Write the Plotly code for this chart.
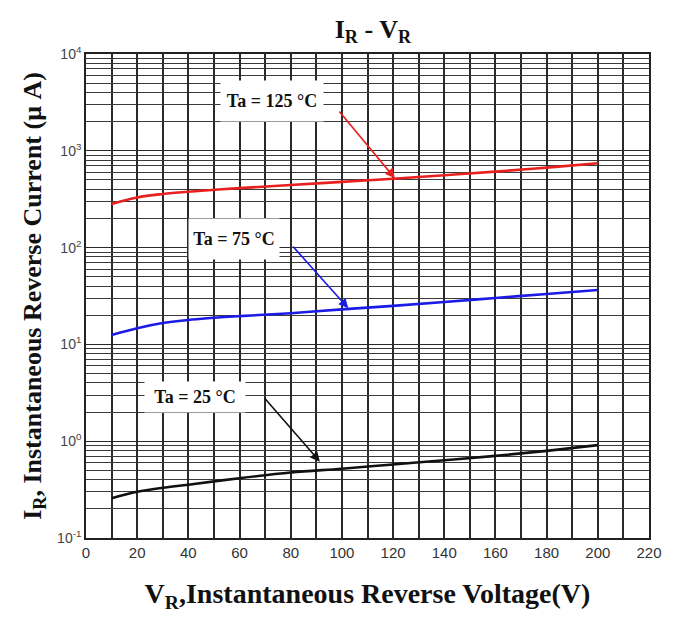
import numpy as np
import plotly.graph_objects as go

# Data (V in volts, I in microamps)
v_125 = [10, 20, 30, 40, 60, 80, 100, 120, 140, 160, 180, 200]
i_125 = [282, 330, 358, 378, 412, 443, 478, 515, 560, 610, 670, 743]

v_75 = [10, 20, 30, 40, 60, 80, 100, 120, 140, 160, 180, 200]
i_75 = [12.5, 14.7, 16.6, 17.9, 19.6, 21.0, 23.0, 25.0, 27.4, 30.2, 33.2, 36.5]

v_25 = [10, 20, 30, 40, 60, 80, 100, 120, 140, 160, 180, 200]
i_25 = [0.257, 0.30, 0.33, 0.355, 0.415, 0.475, 0.52, 0.575, 0.635, 0.705, 0.795, 0.91]

labels = ["Ta = 125 °C", "Ta = 75 °C", "Ta = 25 °C"]
colors = ["#e8201f", "#1b1be6", "#111111"]
# label box centre (V, I), arrow tail (V, I), arrow head (V, I)
label_pos = [(72.7, 3270), (57.8, 123), (42.6, 2.83)]
arrow_tail = [(98.5, 2640), (80.4, 106), (69.3, 2.88)]
arrow_head = [(120.7, 520), (102.5, 23.6), (91.4, 0.614)]
box_size = [(102, 40), (90, 40), (100, 30)]

y_tickvals = [0.1, 1, 10, 100, 1000, 10000]
y_ticktext = ["10<sup>-1</sup>", "10<sup>0</sup>", "10<sup>1</sup>", "10<sup>2</sup>",
              "10<sup>3</sup>", "10<sup>4</sup>"]
x_tickvals = list(range(0, 221, 20))

fig = go.Figure()
for vx, iy, c in [(v_125, i_125, colors[0]), (v_75, i_75, colors[1]), (v_25, i_25, colors[2])]:
    fig.add_trace(go.Scatter(x=vx, y=iy, mode="lines", line=dict(color=c, width=2.6, shape="spline"),
                             showlegend=False))

grid_c = "#2a2a2a"
fig.update_xaxes(range=[0, 220], tickvals=x_tickvals, showgrid=True, gridcolor=grid_c, gridwidth=1.6,
                 minor=dict(dtick=10, showgrid=True, gridcolor=grid_c, gridwidth=1.6),
                 showline=True, linecolor="#222", linewidth=1.6, mirror=True, ticks="",
                 tickfont=dict(family="Liberation Sans Narrow, Liberation Sans, Arial", size=15, color="#333"),
                 zeroline=False, automargin=False,
                 title=dict(text="<b>V<sub>R</sub>,Instantaneous Reverse Voltage(V)</b>",
                            font=dict(family="Liberation Serif, Times New Roman", size=28, color="#111"),
                            standoff=24))
fig.update_yaxes(type="log", range=[-1, 4], tickvals=y_tickvals, ticktext=y_ticktext,
                 showgrid=True, gridcolor=grid_c, gridwidth=1.4,
                 minor=dict(showgrid=True, gridcolor="#3a3a3a", gridwidth=1.4, dtick="D1"),
                 showline=True, linecolor="#222", linewidth=1.6, mirror=True, ticks="",
                 tickfont=dict(family="Liberation Sans Narrow, Liberation Sans, Arial", size=14, color="#444"),
                 zeroline=False, automargin=False,
                 title=dict(text="<b>I<sub>R</sub>, Instantaneous Reverse Current (μ A)</b>",
                            font=dict(family="Liberation Serif, Times New Roman", size=26, color="#111"),
                            standoff=8))

for lab, c, lp, at, ah, bs in zip(labels, colors, label_pos, arrow_tail, arrow_head, box_size):
    fig.add_annotation(x=ah[0], y=np.log10(ah[1]), ax=at[0], ay=np.log10(at[1]), axref="x", ayref="y",
                       text="", showarrow=True, arrowhead=2, arrowsize=1.2, arrowwidth=1.6, arrowcolor=c)
    fig.add_annotation(x=lp[0], y=np.log10(lp[1]), text="<b>" + lab + "</b>", showarrow=False,
                       bgcolor="white", width=bs[0], height=bs[1], borderpad=0,
                       font=dict(family="Liberation Serif, Times New Roman", size=18, color="#111"))

fig.update_layout(
    width=672, height=612,
    margin=dict(l=78, r=31, t=46, b=82, autoexpand=False),
    paper_bgcolor="white", plot_bgcolor="white",
    title=dict(text="<b>I<sub>R</sub> - V<sub>R</sub></b>", x=0.543, xanchor="center", y=0.966, yanchor="middle",
               font=dict(family="Liberation Serif, Times New Roman", size=26, color="#111")),
)
fig.write_html("out.html")
